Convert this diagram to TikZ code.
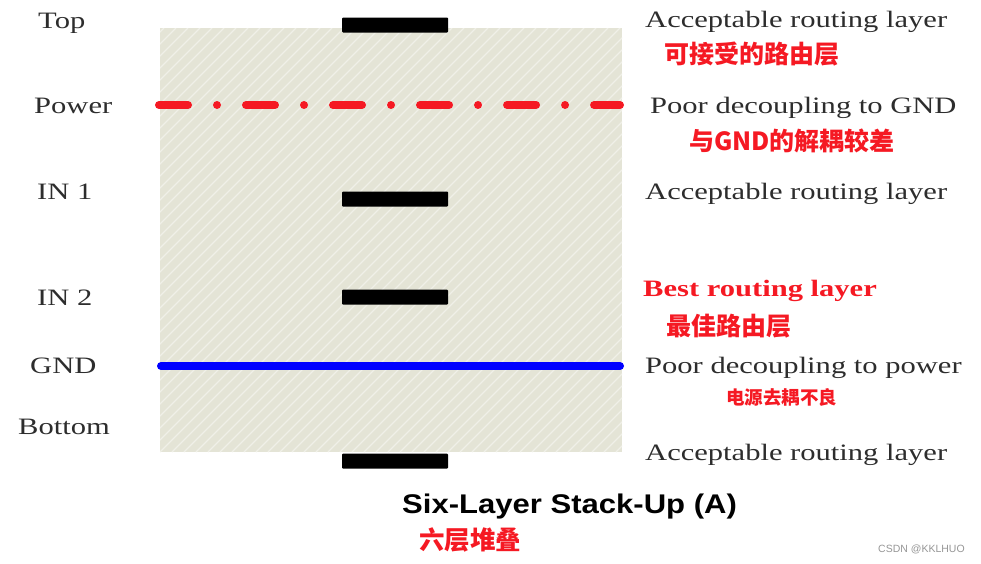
\documentclass[tikz,border=0pt]{standalone}
\usepackage{fontspec}
\setmainfont{Liberation Serif}
\newfontfamily\serifw[FakeStretch=1.3]{Liberation Serif}
\newfontfamily\sansw[FakeStretch=1.15]{Liberation Sans}
\newfontfamily\sansn{Liberation Sans}
\newfontfamily\cjk{Noto Sans CJK SC}
\definecolor{bgfill}{RGB}{228,228,214}
\definecolor{hatch}{RGB}{240,240,232}
\definecolor{txtgray}{RGB}{45,45,45}
\definecolor{cred}{RGB}{245,25,35}
\definecolor{wm}{RGB}{150,150,150}
\tikzset{
  lbl/.style={inner sep=0pt, anchor=base west, text=txtgray, font=\serifw\fontsize{23.5}{28}\selectfont},
  cn/.style={inner sep=0pt, anchor=west, text=cred, font=\cjk\bfseries\fontsize{25}{30}\selectfont},
  bar/.style={fill=black, draw=none, minimum width=106pt, minimum height=15pt, inner sep=0pt, rounded corners=1pt},
  layerline/.style={line width=8pt, line cap=round},
}
\begin{document}
\begin{tikzpicture}[x=1pt,y=-1pt]
\useasboundingbox (0,0) rectangle (981,563);
% background block
\coordinate (bgtl) at (160,28);
\coordinate (bgbr) at (622,452);
\fill[bgfill] (bgtl) rectangle (bgbr);
\begin{scope}
  \clip (bgtl) rectangle (bgbr);
  \foreach \i in {-440,-428,...,630}
    \draw[hatch, line width=1.2pt] (\i,452) -- ++(424,-424);
\end{scope}
% traces
\node[bar] (b1) at (395,25) {};
\node[bar] (b2) at (395,199) {};
\node[bar] (b3) at (395,297) {};
\node[bar] (b4) at (395,461) {};
% planes
\coordinate (pwl) at (159,105);
\coordinate (pwr) at (620,105);
\draw[layerline, cred, dash pattern=on 29pt off 29pt on 0.01pt off 29pt] (pwl) -- (pwr);
\coordinate (gndl) at (161,366);
\coordinate (gndr) at (620,366);
\draw[layerline, blue] (gndl) -- (gndr);
% left labels
\node[lbl] (lTop) at (38,28) {Top};
\node[lbl] (lPow) at (34,113) {Power};
\node[lbl] (lIn1) at (37,199) {IN 1};
\node[lbl] (lIn2) at (37,305) {IN 2};
\node[lbl] (lGnd) at (30,373) {GND};
\node[lbl] (lBot) at (18,434) {Bottom};
% right labels
\node[lbl] (r1) at (645,27) {Acceptable routing layer};
\node[cn] (c1) at (664,54) {可接受的路由层};
\node[lbl] (r2) at (650,113) {Poor decoupling to GND};
\node[cn] (c2) at (689,141) {与GND的解耦较差};
\node[lbl] (r3) at (645,199) {Acceptable routing layer};
\node[lbl, text=cred, font=\serifw\bfseries\fontsize{23.5}{28}\selectfont] (r4) at (643,296) {Best routing layer};
\node[cn] (c4) at (666,326) {最佳路由层};
\node[lbl] (r5) at (645,373) {Poor decoupling to power};
\node[cn, font=\cjk\bfseries\fontsize{18.5}{22}\selectfont] (c5) at (726,397) {电源去耦不良};
\node[lbl] (r6) at (645,460) {Acceptable routing layer};
% title
\node[inner sep=0pt, anchor=base west, text=black, font=\sansw\bfseries\fontsize{27}{32}\selectfont] (title) at (402,513) {Six-Layer Stack-Up (A)};
\node[cn, font=\cjk\bfseries\fontsize{25.5}{30}\selectfont] (ctitle) at (419,540) {六层堆叠};
\node[inner sep=0pt, anchor=west, text=wm, font=\sansn\fontsize{10.5}{12}\selectfont] (wmk) at (878,549) {CSDN @KKLHUO};
\end{tikzpicture}
\end{document}
